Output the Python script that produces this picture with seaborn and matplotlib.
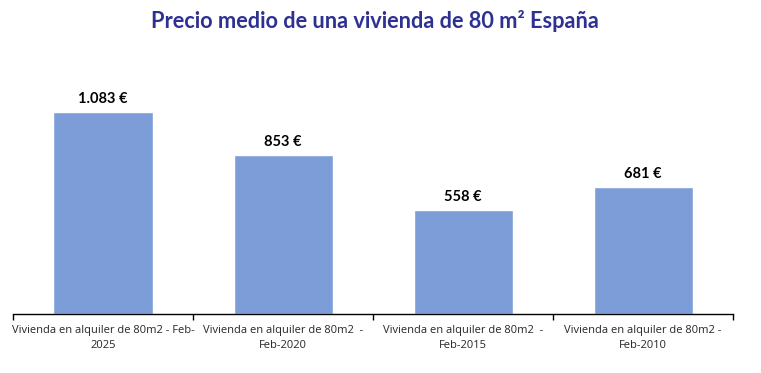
import matplotlib
matplotlib.use("Agg")
import matplotlib.pyplot as plt
import seaborn as sns
import pandas as pd

categories = [
    "Vivienda en alquiler de 80m2 - Feb-\n2025",
    "Vivienda en alquiler de 80m2  -\nFeb-2020",
    "Vivienda en alquiler de 80m2  -\nFeb-2015",
    "Vivienda en alquiler de 80m2 -\nFeb-2010",
]
values = [1083, 853, 558, 681]
value_labels = ["1.083 €", "853 €", "558 €", "681 €"]

df = pd.DataFrame({"cat": categories, "val": values})

sns.set_style("white")
plt.rcParams['font.family'] = ['Open Sans', 'DejaVu Sans']

W, H = 761, 373
fig = plt.figure(figsize=(W / 100, H / 100), dpi=100)
ax = fig.add_axes([13 / W, (H - 314) / H, 720 / W, 254 / H])

sns.barplot(data=df, x="cat", y="val", color="#7C9DD8", saturation=1, width=0.55, ax=ax)

ax.set_xlim(-0.5, 3.5)
ax.set_ylim(0, 1362)
ax.set_xlabel("")
ax.set_ylabel("")
ax.set_yticks([])
for s in ["top", "right", "left"]:
    ax.spines[s].set_visible(False)
ax.spines["bottom"].set_color("black")
ax.spines["bottom"].set_linewidth(1.0)

ax.set_xticks(range(len(categories)))
ax.set_xticklabels(categories, fontsize=8, color="#262626", linespacing=1.45)
ax.tick_params(axis="x", which="major", length=0, pad=8)
ax.set_xticks([-0.5, 0.5, 1.5, 2.5, 3.5], minor=True)
ax.tick_params(axis="x", which="minor", bottom=True, length=4, width=1, color="black", direction="out")

for i, (v, lab) in enumerate(zip(values, value_labels)):
    ax.annotate(lab, (i, v), xytext=(0, 4), textcoords="offset points",
                ha="center", va="bottom", fontsize=10.5, fontweight="bold", color="black",
                family=["Lato", "DejaVu Sans"])

fig.text(375 / W, 1 - 21 / H, "Precio medio de una vivienda de 80 m² España",
         ha="center", va="center", fontsize=15.7, fontweight="bold", color="#2E3192",
         family=["Lato", "DejaVu Sans"])

fig.savefig("out.png", dpi=100)
